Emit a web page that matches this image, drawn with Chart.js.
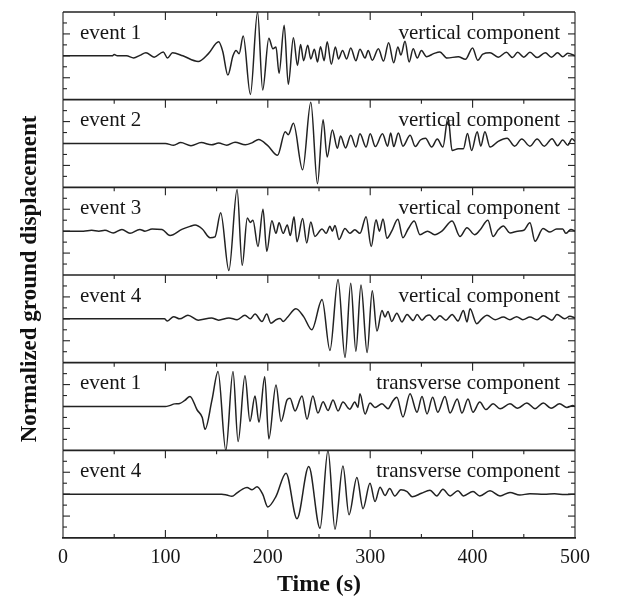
<!DOCTYPE html>
<html>
<head>
    <title>Normalized ground displacement</title>
    <script src="https://cdn.jsdelivr.net/npm/chart.js"></script>
    <style>
        html, body { margin: 0; padding: 0; background: #fff; }
        #wrap { width: 617px; height: 599px; }
    </style>
</head>
<body>
    <div id="wrap"><canvas id="myChart" width="617" height="599"></canvas></div>
    <script>
        // time (s), normalized displacement
        var trace1 = [[0,0],[48,0],[50,0.03],[53,0],[62,0],[69,-0.05],[75,0.01],[81,0.07],[89,-0.03],[98,0.09],[102,-0.05],[107,0.07],[117,0],[132,-0.13],[142,0.05],[152,0.32],[156,0.1],[161,-0.44],[166,0],[169,0.12],[172,0.05],[176,0.45],[183,-0.88],[190,1.0],[195,-0.78],[201,0.4],[205,0.16],[208,0.2],[211,-0.4],[216,0.7],[220,-0.65],[225,0.41],[229,-0.22],[232,0.26],[235,-0.11],[239,0.24],[242,-0.07],[245.5,0.15],[248.5,-0.14],[251.5,0.21],[255,-0.11],[258,0.32],[262,-0.19],[266,0.2],[269,-0.07],[273,0.12],[277,-0.07],[281,0.18],[286,-0.11],[290,0.15],[295,-0.05],[298,0.12],[302,-0.1],[308,0.16],[313,-0.12],[318,0.3],[323,-0.16],[327,0.2],[330,0.02],[334,0.33],[338,-0.14],[342,0.16],[346,-0.05],[350,0.12],[355,-0.02],[362,0.05],[368,0.09],[375,-0.05],[386,-0.02],[393,-0.08],[400,0.18],[405,-0.1],[410,0.04],[417,0.07],[425,-0.03],[433,0.08],[439,-0.04],[444,0.08],[450,-0.03],[456,0.08],[463,-0.04],[471,0.07],[477,-0.03],[483,0.07],[488,-0.02],[493,0.06],[500,0]];
        var trace2 = [[0,0],[100,0],[108,-0.04],[115,0.02],[125,-0.05],[135,0.02],[145,-0.03],[152,0.01],[160,-0.04],[168,0.03],[178,-0.03],[185,0.02],[191,0.09],[200,-0.05],[209.5,-0.27],[217,0.27],[220,0.2],[225,0.46],[234,-0.6],[242,0.94],[248.5,-0.92],[254,0.54],[258,-0.31],[263,0.31],[268,-0.11],[271,0.17],[276,-0.1],[281,0.19],[286,-0.08],[290,0.22],[296,-0.08],[300,0.22],[305,-0.07],[312,0.22],[317,-0.06],[320,0.24],[323,-0.07],[327.5,0.24],[332,-0.06],[339,0.19],[344,-0.07],[349,0.08],[354,0.12],[360,-0.08],[365.5,0.1],[371,-0.08],[376,0.6],[380,-0.16],[386,-0.12],[391,-0.12],[395,0.23],[399,-0.16],[404.5,0.27],[408,-0.06],[412,0.27],[417,-0.08],[425,0.05],[433.7,0.12],[441,-0.06],[448,0.1],[456,-0.06],[463,0.1],[470,-0.06],[477.6,0.11],[483,-0.05],[488,0.08],[493,-0.04],[497,0.11],[500,0.05]];
        var trace3 = [[0,0],[20,0],[28,0.02],[35,0],[41,0.02],[49,-0.04],[57.6,0.04],[65.4,-0.05],[75,0.04],[80,0],[87,0.05],[96.7,0.04],[104.5,-0.1],[116,0.04],[124,0.11],[129,0.14],[136,0.05],[143.6,-0.15],[148.4,-0.13],[154,0.42],[162,-0.9],[170,0.95],[175,-0.78],[180,0.3],[183,0.2],[185.5,0.25],[190.4,-0.35],[195.3,0.5],[199,-0.46],[204,0.24],[208,-0.05],[211,0.19],[215,-0.05],[219,0.14],[222,-0.1],[225.6,0.33],[228.5,-0.24],[234,0.29],[238,-0.27],[242,0.21],[246,-0.12],[253,0.05],[257,-0.05],[260.7,0.11],[263,0],[265.6,0.13],[269.5,-0.19],[275.4,0.06],[280,-0.05],[285,0.03],[290,-0.05],[296,0.33],[301,-0.35],[305.7,0.26],[309,0],[312.5,0.28],[316.4,-0.16],[321,0],[327,0.27],[332,-0.15],[337,0.05],[343,0.23],[348.6,-0.08],[356,0],[363,-0.08],[370,0],[380,0.23],[387.7,-0.12],[394.5,0.08],[402,-0.08],[407,0.02],[415,0.25],[420,-0.12],[425,0.03],[430,0.12],[436.5,-0.04],[444,0],[450,0.02],[456,0.19],[461,-0.23],[468.8,0.06],[475.6,-0.02],[482,0.05],[488,0.05],[491,-0.05],[496,0.04],[500,0]];
        var trace4 = [[0,0],[99,0],[102,-0.05],[108,0.05],[114,0],[122,0.08],[132,-0.03],[145,0.02],[152,-0.03],[162,0.02],[170,-0.02],[177.7,0.08],[183,0],[187.5,0.11],[194.3,-0.06],[199,0.11],[203,-0.1],[208,-0.02],[212,0.01],[215,-0.06],[219,0.03],[227.5,0.23],[235,0.05],[243,-0.25],[253,0.44],[260.7,-0.72],[268.6,0.9],[275.4,-0.88],[281,0.81],[286,-0.74],[291,0.77],[297,-0.77],[302,0.64],[306.6,-0.28],[311.5,0.19],[314.5,0.04],[317.4,0.17],[321,-0.06],[326,0.13],[331,-0.07],[336,0.1],[342,-0.04],[345.7,0.1],[350.6,-0.03],[354.5,0.06],[358,0.09],[363,-0.03],[368,0.07],[374,-0.03],[380,0.1],[385.7,-0.05],[391,0.19],[394.5,-0.07],[397.5,0.23],[404,-0.11],[409,0],[414,0.08],[422,-0.02],[430,0.04],[436.5,-0.02],[443,0.05],[449,-0.02],[456,0.04],[463,-0.02],[469,0.07],[477.5,-0.03],[482.4,0.1],[490,0],[495,0.06],[500,0.02]];
        var trace5 = [[0,0],[100,0],[104,0.02],[109,0.06],[114,0.07],[119,0.14],[124,0.23],[131,-0.08],[136,-0.25],[138.7,-0.52],[145.5,0.15],[151.4,0.8],[159,-1.0],[166,0.8],[171,-0.8],[177.7,0.7],[182.6,-0.34],[187.5,0.24],[191.4,-0.36],[197,0.68],[201,-0.74],[208,0.49],[213,-0.34],[218.8,0.15],[221.7,0.19],[226.6,-0.1],[233.4,0.24],[238.3,-0.29],[244,0.24],[249,-0.15],[254,0.11],[258.8,-0.09],[263.7,0.15],[268.6,-0.1],[273.4,0.1],[280,-0.06],[285,0.1],[288,-0.02],[290,0.29],[295,-0.17],[299.8,0.08],[304.7,-0.02],[311.5,0.06],[317.4,-0.05],[322,0.12],[326,0.21],[332,-0.24],[338.9,0.29],[345.7,-0.13],[350.6,0.23],[355.5,-0.17],[361,0.21],[366,-0.13],[373,0.23],[378,-0.15],[385,0.17],[389.6,-0.15],[395.5,0.17],[400.4,-0.13],[407,0.1],[413,-0.07],[420,0.06],[426.8,-0.05],[436.5,0.06],[444,-0.04],[453,0.08],[461,-0.05],[469,0.08],[476.6,-0.04],[485,0.06],[492,-0.02],[498,0.02],[500,0]];
        var trace6 = [[0,0],[155,0],[160,-0.02],[165,-0.05],[170,0.03],[175,0.11],[179.7,0.15],[184.6,0.1],[189.5,0.17],[195,0],[200,-0.29],[208,-0.05],[217.8,0.48],[228.5,-0.56],[240,0.63],[251,-0.78],[258.8,1.0],[265.6,-0.8],[273.4,0.64],[279.3,-0.47],[287,0.38],[293,-0.33],[299.8,0.25],[304.7,-0.17],[309.6,0.16],[314.5,-0.03],[319,0.13],[324,-0.04],[330,0.1],[336,0.06],[341,-0.06],[350,0.02],[358.4,0.09],[365,-0.04],[371,0.11],[378,-0.04],[385.7,0.08],[391,-0.04],[400.4,0.06],[407,-0.04],[417,0.08],[426.8,-0.04],[436.5,0.04],[446,-0.02],[456,0.01],[470,0],[480,0.01],[490,-0.01],[500,0]];

        var traces = [trace1, trace2, trace3, trace4, trace5, trace6];
        var eventNames = ['event 1', 'event 2', 'event 3', 'event 4', 'event 1', 'event 4'];
        var components = ['vertical component', 'vertical component', 'vertical component',
                          'vertical component', 'transverse component', 'transverse component'];
        var timeTicks = [0, 100, 200, 300, 400, 500];

        var SERIF = '"Liberation Serif", "Times New Roman", serif';
        var INK = '#222';

        function line(ctx, x1, y1, x2, y2) {
            ctx.beginPath();
            ctx.moveTo(x1, y1);
            ctx.lineTo(x2, y2);
            ctx.stroke();
        }

        // frame, ticks and labels for each stacked panel
        var panelDecor = {
            id: 'panelDecor',
            beforeDraw: function(chart) {
                var ctx = chart.ctx;
                ctx.save();
                ctx.fillStyle = '#fff';
                ctx.fillRect(0, 0, chart.width, chart.height);
                ctx.restore();
            },
            afterDatasetsDraw: function(chart) {
                var ctx = chart.ctx;
                var area = chart.chartArea;
                var xs = chart.scales.x;
                ctx.save();
                ctx.strokeStyle = INK;
                ctx.fillStyle = '#161616';
                for (var i = 0; i < traces.length; i++) {
                    var s = chart.scales['y' + (i + 1)];
                    ctx.lineWidth = 1.7;
                    line(ctx, area.left, s.top, area.right, s.top);
                    ctx.lineWidth = 1.1;
                    line(ctx, area.left, s.top, area.left, s.bottom);
                    line(ctx, area.right, s.top, area.right, s.bottom);
                    // y ticks, inward on both sides
                    s.ticks.forEach(function(tk) {
                        if (Math.abs(tk.value) >= 1) return;
                        var y = s.getPixelForValue(tk.value);
                        var len = (Math.abs(tk.value) % 0.5 === 0) ? 7 : 4;
                        line(ctx, area.left, y, area.left + len, y);
                        line(ctx, area.right, y, area.right - len, y);
                    });
                    // time ticks hanging from the panel top
                    for (var t = 50; t < 500; t += 50) {
                        var px = xs.getPixelForValue(t);
                        line(ctx, px, s.top, px, s.top + (t % 100 === 0 ? 8 : 4));
                    }
                    ctx.font = '21px ' + SERIF;
                    ctx.textBaseline = 'middle';
                    ctx.textAlign = 'left';
                    ctx.fillText(eventNames[i], area.left + 17, s.top + 21);
                    ctx.textAlign = 'right';
                    ctx.fillText(components[i], area.right - 15, s.top + 21);
                }
                // time ticks rising from the bottom axis
                for (var t2 = 50; t2 < 500; t2 += 50) {
                    var p2 = xs.getPixelForValue(t2);
                    line(ctx, p2, area.bottom, p2, area.bottom - (t2 % 100 === 0 ? 8 : 4));
                }
                // y axis title
                ctx.translate(30, (area.top + area.bottom) / 2 + 4);
                ctx.rotate(-Math.PI / 2);
                ctx.font = 'bold 23px ' + SERIF;
                ctx.textAlign = 'center';
                ctx.textBaseline = 'middle';
                ctx.fillStyle = '#111';
                ctx.fillText('Normalized ground displacement', 0, 0);
                ctx.restore();
            }
        };

        var scales = {
            x: {
                type: 'linear',
                min: 0,
                max: 500,
                afterFit: function(s) { s.height = 61; },
                afterBuildTicks: function(s) {
                    s.ticks = timeTicks.map(function(v) { return { value: v }; });
                },
                grid: { display: false, drawTicks: false },
                border: { display: true, color: INK, width: 1.7 },
                ticks: { padding: 8, color: '#161616', font: { family: SERIF, size: 20 } },
                title: {
                    display: true,
                    text: 'Time (s)',
                    color: '#111',
                    padding: 0,
                    font: { family: SERIF, size: 24, weight: 'bold' }
                }
            }
        };
        // last defined ends up on top of the stack, so go bottom -> top
        for (var k = traces.length; k >= 1; k--) {
            scales['y' + k] = {
                type: 'linear',
                position: 'left',
                stack: 'panels',
                stackWeight: 1,
                min: -1,
                max: 1,
                afterFit: function(s) { s.width = 0; },
                ticks: { display: false, stepSize: 0.25 },
                grid: { display: false, drawTicks: false },
                border: { display: false }
            };
        }

        var datasets = traces.map(function(tr, i) {
            return {
                data: tr,
                yAxisID: 'y' + (i + 1),
                borderColor: INK,
                borderWidth: 1.5,
                pointRadius: 0,
                fill: false,
                cubicInterpolationMode: 'monotone'
            };
        });

        var ctx = document.getElementById('myChart').getContext('2d');
        var myChart = new Chart(ctx, {
            type: 'line',
            data: { datasets: datasets },
            options: {
                responsive: false,
                animation: false,
                layout: { padding: { left: 63, right: 42, top: 12, bottom: 0 } },
                plugins: { legend: { display: false }, tooltip: { enabled: false } },
                scales: scales
            },
            plugins: [panelDecor]
        });
    </script>
</body>
</html>
